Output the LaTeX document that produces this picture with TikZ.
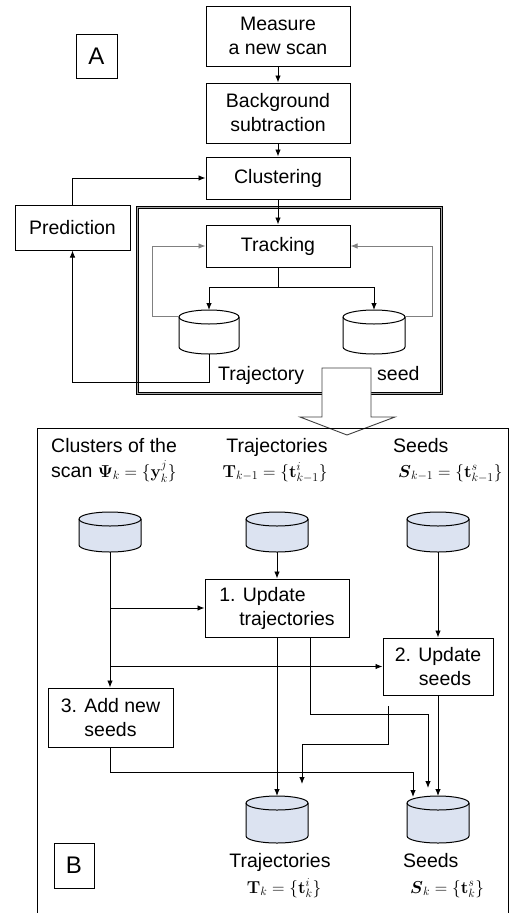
\documentclass[tikz,border=0pt]{standalone}
\usepackage{amsmath}
\usepackage[no-math]{fontspec}
\setmainfont{Liberation Sans}
\usetikzlibrary{arrows.meta,calc}
\definecolor{cylfill}{HTML}{DCE3F1}
\newcommand\fs{\fontsize{19.5}{24}\selectfont}
\newcommand\fm{\fontsize{17}{20}\selectfont}
% #1 name, #2 cx, #3 top, #4 bottom, #5 rx, #6 fill
\newcommand\dbcyl[6]{%
  \path[draw,line width=1pt,fill=#6] (#2-#5,-#3-7) -- (#2-#5,-#4+7)
    arc[start angle=180,end angle=360,x radius=#5pt,y radius=7pt]
    -- (#2+#5,-#3-7)
    arc[start angle=0,end angle=180,x radius=#5pt,y radius=7pt] -- cycle;
  \draw[line width=1pt] (#2-#5,-#3-7) arc[start angle=180,end angle=360,x radius=#5pt,y radius=7pt];
  \node[inner sep=0pt,outer sep=0pt,minimum width={2*#5*1pt},minimum height={(#4-#3)*1pt}] (#1) at (#2,{-(#3+#4)/2}) {};
}
\tikzset{
  box/.style={draw,line width=1pt,inner sep=0pt,align=center,font=\fs},
  arr/.style={-{Latex[length=7pt,width=5.5pt]},line width=0.9pt},
  ln/.style={line width=0.9pt},
  garr/.style={-{Latex[length=7pt,width=5.5pt]},line width=0.9pt,draw=gray},
  txt/.style={inner sep=0pt,font=\fs},
  mth/.style={inner sep=0pt,font=\fm},
}
\begin{document}
\begin{tikzpicture}[x=1pt,y=1pt]
\useasboundingbox[fill=white] (0,0) rectangle (510,-913);

% ---------- Panel A ----------
\node[box,minimum width=41pt,minimum height=44pt,font=\fontsize{24}{28}\selectfont] (labA) at (96.5,-56) {A};
\node[box,minimum width=144pt,minimum height=60pt] (meas) at (278,-36) {Measure\\a new scan};
\node[box,minimum width=144pt,minimum height=60pt] (bg) at (278,-113) {Background\\subtraction};
\node[box,minimum width=144pt,minimum height=42pt] (clus) at (278,-178) {Clustering};
\node[box,minimum width=115pt,minimum height=45pt] (pred) at (72.5,-227.5) {Prediction};

\node[draw,line width=0.8pt,double=gray!70,double distance=1.4pt,minimum width=304pt,minimum height=186pt,inner sep=0pt] (frame) at (289.5,-300.5) {};

\node[box,fill=white,minimum width=144pt,minimum height=42pt] (track) at (278,-246) {Tracking};

\dbcyl{trajA}{209}{310}{354}{30}{white}
\dbcyl{seedA}{374}{310}{354}{31}{white}

\draw[arr] (meas) -- (bg);
\draw[arr] (bg) -- (clus);
\draw[arr] (clus) -- (track);
\draw[arr] (pred.north) |- (clus.west);

\coordinate (jA) at (278,-287);
\draw[ln] (track.south) -- (jA);
\draw[arr] (jA) -| (trajA.north);
\draw[arr] (jA) -| (seedA.north);

\draw[garr] (trajA.north west) ++(0,-6) -- ++(-27,0) |- (track.west);
\draw[garr] (seedA.north east) ++(0,-6) -- ++(27,0) |- (track.east);

\draw[arr] (trajA.south) -- ++(0,-28) -| (pred.south);

\node[txt,anchor=base west] (tlab) at (218,-380) {Trajectory};
\node[txt,anchor=base west] (slab) at (377,-380) {seed};

% big hollow arrow
\draw[line width=0.9pt,draw=black!75,fill=white]
  (322,-368) -- (371,-368) -- (371,-417) -- (395,-417) -- (347,-435)
  -- (300,-417) -- (322,-417) -- cycle;

% ---------- Panel B ----------
\draw[line width=1pt] (37,-913) -- (37,-428) -- (508,-428) -- (508,-913);

\node[txt,anchor=base west] (cl1) at (51,-452) {Clusters of the};
\node[txt,anchor=base west] (cl2) at (51,-477) {scan \fm$\mathbf{\Psi}_k=\{\mathbf{y}_k^j\}$};
\node[txt,anchor=base] (tr1) at (277,-452) {Trajectories};
\node[mth,anchor=base] (tr2) at (275,-477) {$\mathbf{T}_{k-1}=\{\mathbf{t}^i_{k-1}\}$};
\node[txt,anchor=base west] (se1) at (393,-452) {Seeds};
\node[mth,anchor=base west] (se2) at (398,-477) {$\boldsymbol{S}_{k-1}=\{\mathbf{t}^s_{k-1}\}$};

\dbcyl{cylC}{110}{512}{552}{31}{cylfill}
\dbcyl{cylT}{277}{512}{552}{31}{cylfill}
\dbcyl{cylS}{438}{512}{552}{31}{cylfill}

\node[box,minimum width=144pt,minimum height=58pt,align=left] (upT) at (277,-608) {1. Update\\\hspace*{20pt}trajectories};
\node[box,minimum width=110pt,minimum height=57pt] (upS) at (438,-666.5) {2. Update\\\hspace*{14pt}seeds};
\node[box,minimum width=125pt,minimum height=59pt] (add) at (110.5,-717.5) {3. Add new\\seeds};

\dbcyl{cylT2}{277}{796}{843}{31}{cylfill}
\dbcyl{cylS2}{438}{796}{843}{31}{cylfill}

\draw[arr] (cylT.south) -- (upT.north);
\draw[arr] (cylS.south) -- (upS.north);
\draw[arr] (cylC.south) -- (cylC.south |- add.north);
\draw[arr] (cylC.south |- upT.west) -- (upT.west);
\draw[arr] (cylC.south |- upS.west) -- (upS.west);
\draw[arr] (upT.south) -- (cylT2.north);
\draw[arr] (upS.south) -- (cylS2.north);

\coordinate (a1) at (310,-637);
\coordinate (a2) at (428,-788);
\draw[arr] (a1) |- (428,-714) -- (a2);
\coordinate (b1) at (388,-706);
\coordinate (b2) at (302,-784);
\draw[arr] (b1) |- (302,-744) -- (b2);
\draw[arr] (add.south) |- (413,-772) -- (413,-797);

\node[box,minimum width=40pt,minimum height=45pt,font=\fontsize{24}{28}\selectfont] (labB) at (74,-865.5) {B};

\node[txt,anchor=base] (tr3) at (280,-867) {Trajectories};
\node[mth,anchor=base] (tr4) at (284,-893) {$\mathbf{T}_k=\{\mathbf{t}^i_k\}$};
\node[txt,anchor=base west] (se3) at (403,-867) {Seeds};
\node[mth,anchor=base west] (se4) at (410,-893) {$\boldsymbol{S}_k=\{\mathbf{t}^s_k\}$};
\end{tikzpicture}
\end{document}
